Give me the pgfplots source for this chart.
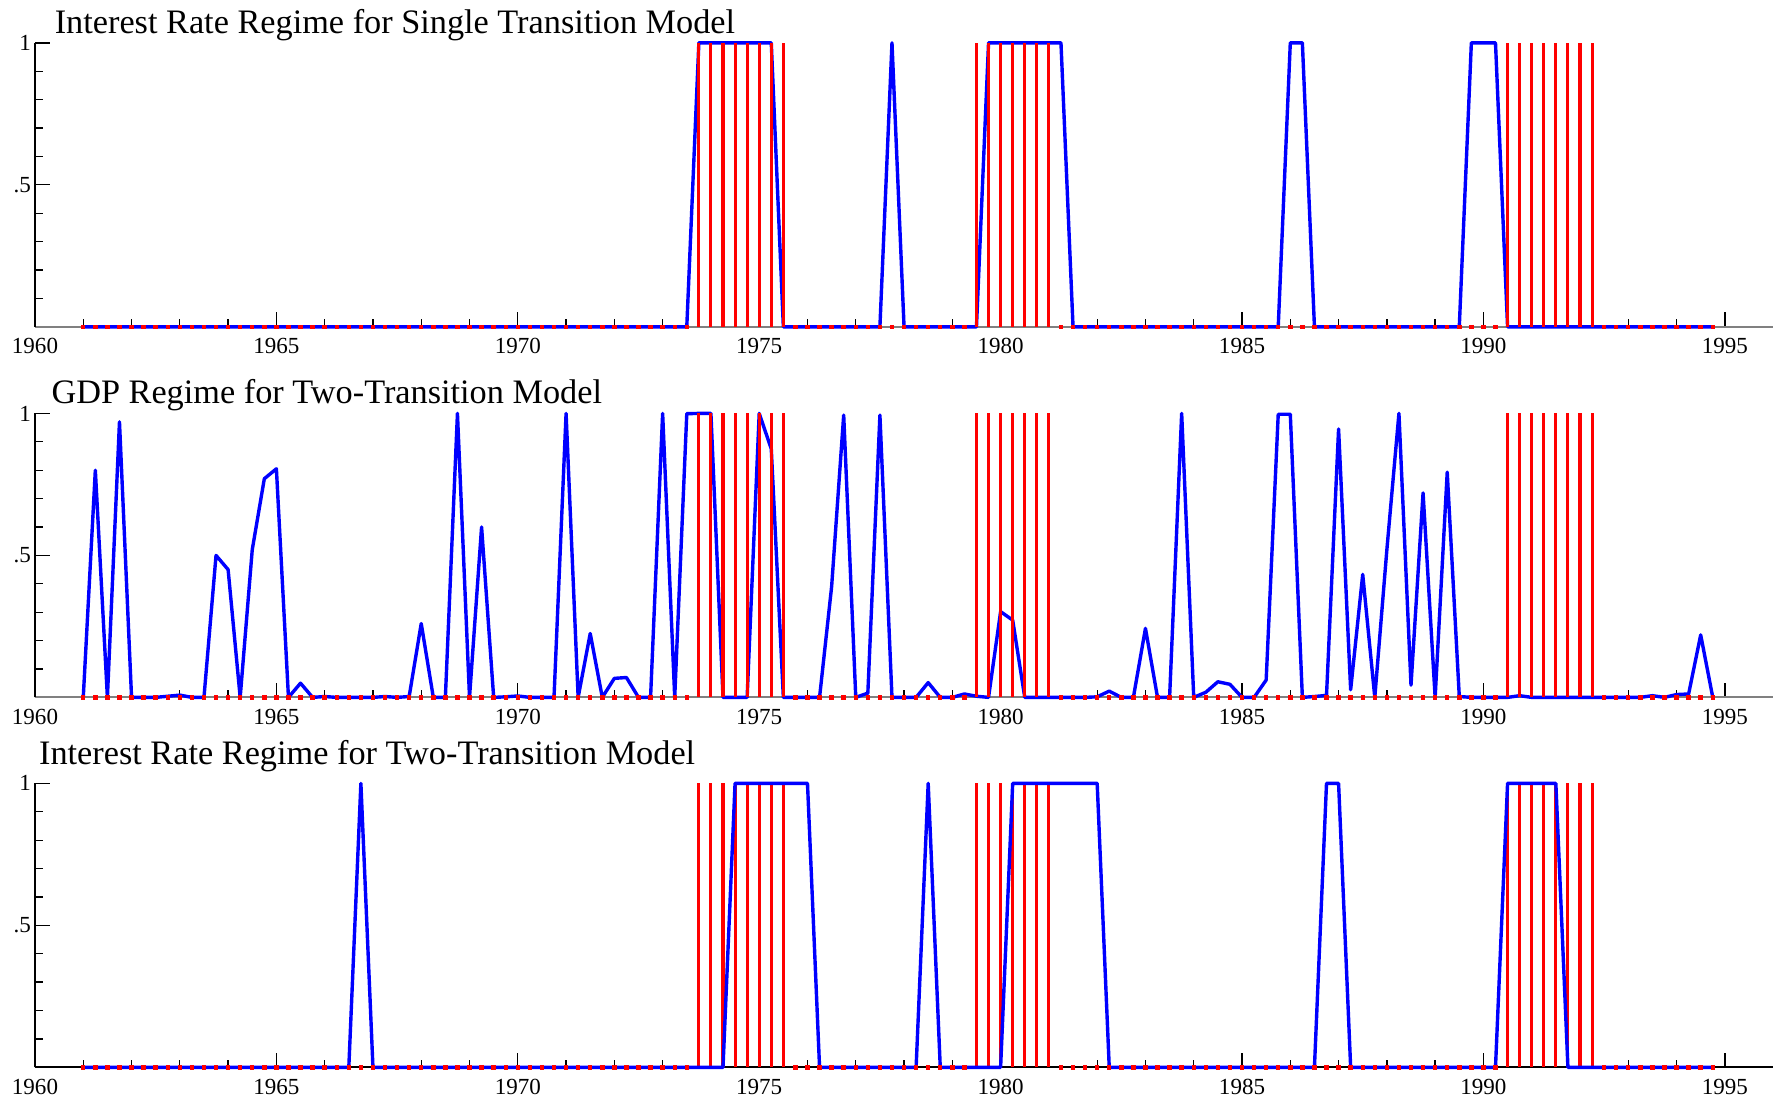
\documentclass[border=0pt]{standalone}
\usepackage{fontspec}
\setmainfont{Liberation Serif}
\usepackage{pgfplots}
\usepackage{pgfplotstable}
\pgfplotsset{compat=1.18}

% quarterly indicator (red spikes), same in all three panels
\pgfplotstableread[row sep=\\]{
x y\\
1961.00 0\\ 1961.25 0\\ 1961.50 0\\ 1961.75 0\\
1962.00 0\\ 1962.25 0\\ 1962.50 0\\ 1962.75 0\\
1963.00 0\\ 1963.25 0\\ 1963.50 0\\ 1963.75 0\\
1964.00 0\\ 1964.25 0\\ 1964.50 0\\ 1964.75 0\\
1965.00 0\\ 1965.25 0\\ 1965.50 0\\ 1965.75 0\\
1966.00 0\\ 1966.25 0\\ 1966.50 0\\ 1966.75 0\\
1967.00 0\\ 1967.25 0\\ 1967.50 0\\ 1967.75 0\\
1968.00 0\\ 1968.25 0\\ 1968.50 0\\ 1968.75 0\\
1969.00 0\\ 1969.25 0\\ 1969.50 0\\ 1969.75 0\\
1970.00 0\\ 1970.25 0\\ 1970.50 0\\ 1970.75 0\\
1971.00 0\\ 1971.25 0\\ 1971.50 0\\ 1971.75 0\\
1972.00 0\\ 1972.25 0\\ 1972.50 0\\ 1972.75 0\\
1973.00 0\\ 1973.25 0\\ 1973.50 0\\ 1973.75 1\\
1974.00 1\\ 1974.25 1\\ 1974.50 1\\ 1974.75 1\\
1975.00 1\\ 1975.25 1\\ 1975.50 1\\ 1975.75 0\\
1976.00 0\\ 1976.25 0\\ 1976.50 0\\ 1976.75 0\\
1977.00 0\\ 1977.25 0\\ 1977.50 0\\ 1977.75 0\\
1978.00 0\\ 1978.25 0\\ 1978.50 0\\ 1978.75 0\\
1979.00 0\\ 1979.25 0\\ 1979.50 1\\ 1979.75 1\\
1980.00 1\\ 1980.25 1\\ 1980.50 1\\ 1980.75 1\\
1981.00 1\\ 1981.25 0\\ 1981.50 0\\ 1981.75 0\\
1982.00 0\\ 1982.25 0\\ 1982.50 0\\ 1982.75 0\\
1983.00 0\\ 1983.25 0\\ 1983.50 0\\ 1983.75 0\\
1984.00 0\\ 1984.25 0\\ 1984.50 0\\ 1984.75 0\\
1985.00 0\\ 1985.25 0\\ 1985.50 0\\ 1985.75 0\\
1986.00 0\\ 1986.25 0\\ 1986.50 0\\ 1986.75 0\\
1987.00 0\\ 1987.25 0\\ 1987.50 0\\ 1987.75 0\\
1988.00 0\\ 1988.25 0\\ 1988.50 0\\ 1988.75 0\\
1989.00 0\\ 1989.25 0\\ 1989.50 0\\ 1989.75 0\\
1990.00 0\\ 1990.25 0\\ 1990.50 1\\ 1990.75 1\\
1991.00 1\\ 1991.25 1\\ 1991.50 1\\ 1991.75 1\\
1992.00 1\\ 1992.25 1\\ 1992.50 0\\ 1992.75 0\\
1993.00 0\\ 1993.25 0\\ 1993.50 0\\ 1993.75 0\\
1994.00 0\\ 1994.25 0\\ 1994.50 0\\ 1994.75 0\\
}\rec

% GDP regime probability, two-transition model
\pgfplotstableread[row sep=\\]{
x y\\
1961.00 0\\ 1961.25 0.80\\ 1961.50 0\\ 1961.75 0.97\\
1962.00 0\\ 1962.25 0\\ 1962.50 0\\ 1962.75 0.004\\
1963.00 0.008\\ 1963.25 0\\ 1963.50 0\\ 1963.75 0.50\\
1964.00 0.45\\ 1964.25 0\\ 1964.50 0.52\\ 1964.75 0.77\\
1965.00 0.805\\ 1965.25 0\\ 1965.50 0.05\\ 1965.75 0\\
1966.00 0.003\\ 1966.25 0\\ 1966.50 0\\ 1966.75 0\\
1967.00 0\\ 1967.25 0.003\\ 1967.50 0\\ 1967.75 0.003\\
1968.00 0.26\\ 1968.25 0\\ 1968.50 0\\ 1968.75 1.0\\
1969.00 0\\ 1969.25 0.60\\ 1969.50 0\\ 1969.75 0.002\\
1970.00 0.005\\ 1970.25 0\\ 1970.50 0\\ 1970.75 0\\
1971.00 1.0\\ 1971.25 0\\ 1971.50 0.225\\ 1971.75 0\\
1972.00 0.067\\ 1972.25 0.07\\ 1972.50 0\\ 1972.75 0\\
1973.00 1.0\\ 1973.25 0\\ 1973.50 0.999\\ 1973.75 1.0\\
1974.00 1.0\\ 1974.25 0\\ 1974.50 0\\ 1974.75 0\\
1975.00 1.0\\ 1975.25 0.875\\ 1975.50 0\\ 1975.75 0\\
1976.00 0\\ 1976.25 0\\ 1976.50 0.39\\ 1976.75 0.994\\
1977.00 0\\ 1977.25 0.015\\ 1977.50 0.994\\ 1977.75 0\\
1978.00 0\\ 1978.25 0\\ 1978.50 0.052\\ 1978.75 0\\
1979.00 0\\ 1979.25 0.012\\ 1979.50 0.004\\ 1979.75 0\\
1980.00 0.302\\ 1980.25 0.272\\ 1980.50 0\\ 1980.75 0\\
1981.00 0\\ 1981.25 0\\ 1981.50 0\\ 1981.75 0\\
1982.00 0.002\\ 1982.25 0.022\\ 1982.50 0\\ 1982.75 0\\
1983.00 0.243\\ 1983.25 0\\ 1983.50 0\\ 1983.75 1.0\\
1984.00 0\\ 1984.25 0.018\\ 1984.50 0.055\\ 1984.75 0.046\\
1985.00 0\\ 1985.25 0\\ 1985.50 0.061\\ 1985.75 0.997\\
1986.00 0.997\\ 1986.25 0\\ 1986.50 0.003\\ 1986.75 0.007\\
1987.00 0.945\\ 1987.25 0.027\\ 1987.50 0.433\\ 1987.75 0\\
1988.00 0.52\\ 1988.25 1.0\\ 1988.50 0.043\\ 1988.75 0.72\\
1989.00 0\\ 1989.25 0.793\\ 1989.50 0.003\\ 1989.75 0\\
1990.00 0\\ 1990.25 0\\ 1990.50 0\\ 1990.75 0.006\\
1991.00 0\\ 1991.25 0\\ 1991.50 0\\ 1991.75 0\\
1992.00 0\\ 1992.25 0\\ 1992.50 0\\ 1992.75 0\\
1993.00 0\\ 1993.25 0\\ 1993.50 0.006\\ 1993.75 0\\
1994.00 0.01\\ 1994.25 0.012\\ 1994.50 0.22\\ 1994.75 0\\
}\gdp

\pgfplotsset{
  regime/.style={
    scale only axis, width=588.2pt, height=96.1pt,
    xmin=1960, xmax=1996, ymin=0, ymax=1,
    axis x line=bottom, axis y line=left,
    axis line style={-, line width=0.6pt},
    xtick={1960,1965,1970,1975,1980,1985,1990,1995},
    xticklabels={1960,1965,1970,1975,1980,1985,1990,1995},
    minor xtick={1961,1962,1963,1964,1966,1967,1968,1969,1971,1972,1973,1974,1976,1977,1978,1979,1981,1982,1983,1984,1986,1987,1988,1989,1991,1992,1993,1994},
    ytick={0.5,1}, yticklabels={.5,1},
    minor ytick={0.1,0.2,0.3,0.4,0.6,0.7,0.8,0.9},
    tick align=inside,
    major tick length=5pt, minor tick length=2.6pt,
    tick style={black, line width=0.45pt},
    ticklabel style={font=\fontsize{7.8}{9}\selectfont},
    xticklabel style={inner ysep=3.8pt},
    yticklabel style={inner xsep=1.2pt},
    clip=false,
  },
  bluereg/.style={blue, line width=1.15pt, line join=round},
  redspike/.style={red, ycomb, line width=1.05pt},
  reddot/.style={red, only marks, mark=square*, mark size=0.55pt, restrict y to domain=-1:0.5},
}
\tikzset{paneltitle/.style={anchor=base west, inner sep=0pt, font=\fontsize{11.6}{14}\selectfont}}

\begin{document}
\begin{tikzpicture}
\path[use as bounding box] (0,0) rectangle (600pt,372.9pt);

% top panel
\begin{axis}[regime, at={(11.84pt,262.3pt)}, anchor=south west,
    x axis line style={gray}]
\addplot[bluereg] coordinates {
(1961,0)(1973.5,0)(1973.75,1)(1975.25,1)(1975.5,0)(1977.5,0)(1977.75,1)(1978,0)
(1979.5,0)(1979.75,1)(1981.25,1)(1981.5,0)(1985.75,0)(1986,1)(1986.25,1)(1986.5,0)
(1989.5,0)(1989.75,1)(1990.25,1)(1990.5,0)(1994.75,0)};
\addplot[redspike] table {\rec};
\addplot[reddot] table {\rec};
\node[paneltitle] at ([xshift=6.5pt,yshift=3pt]rel axis cs:0,1) {Interest Rate Regime for Single Transition Model};
\end{axis}

% middle panel
\begin{axis}[regime, at={(11.84pt,136.9pt)}, anchor=south west,
    x axis line style={gray}]
\addplot[bluereg] table {\gdp};
\addplot[redspike] table {\rec};
\addplot[reddot] table {\rec};
\node[paneltitle] at ([xshift=5.4pt,yshift=3.4pt]rel axis cs:0,1) {GDP Regime for Two-Transition Model};
\end{axis}

% bottom panel
\begin{axis}[regime, at={(11.84pt,11.7pt)}, anchor=south west]
\addplot[redspike] table {\rec};
\addplot[reddot] table {\rec};
\addplot[bluereg] coordinates {
(1961,0)(1966.5,0)(1966.75,1)(1967,0)(1974.25,0)(1974.5,1)(1976,1)(1976.25,0)
(1978.25,0)(1978.5,1)(1978.75,0)(1980,0)(1980.25,1)(1982,1)(1982.25,0)
(1986.5,0)(1986.75,1)(1987,1)(1987.25,0)(1990.25,0)(1990.5,1)(1991.5,1)(1991.75,0)(1994.75,0)};
\node[paneltitle] at ([xshift=1.2pt,yshift=6.4pt]rel axis cs:0,1) {Interest Rate Regime for Two-Transition Model};
\end{axis}
\end{tikzpicture}
\end{document}
